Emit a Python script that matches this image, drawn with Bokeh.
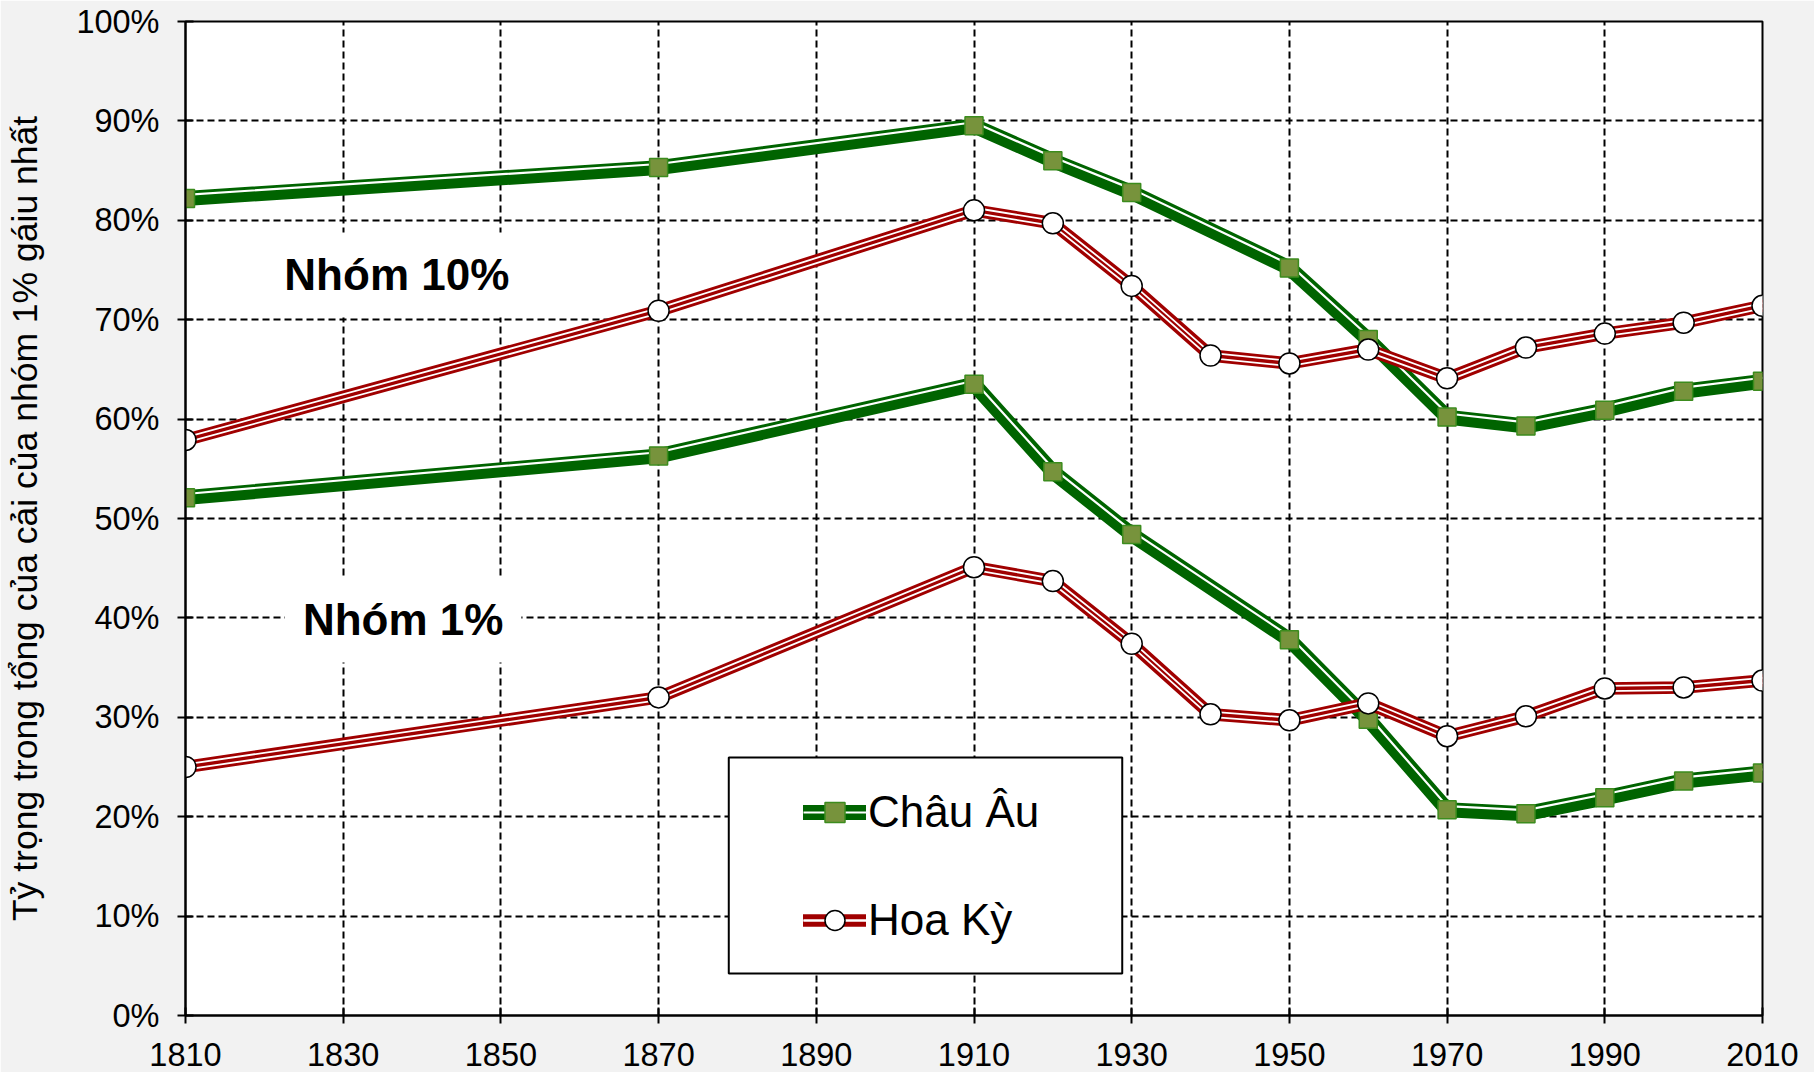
from bokeh.plotting import figure
from bokeh.models import (FixedTicker, NumeralTickFormatter, Legend, LegendItem,
                          BoxAnnotation, Range1d)
from bokeh.core.properties import value
from bokeh.embed import file_html
from bokeh.resources import INLINE

# ---------------- data ----------------
years_eu = [1810, 1870, 1910, 1920, 1930, 1950, 1960, 1970, 1980, 1990, 2000, 2010]
eu_top10 = [0.822, 0.853, 0.895, 0.860, 0.828, 0.752, 0.680, 0.602, 0.593, 0.609, 0.628, 0.638]
eu_top1 = [0.521, 0.563, 0.635, 0.547, 0.484, 0.378, 0.298, 0.207, 0.203, 0.219, 0.236, 0.244]

years_us = [1810, 1870, 1910, 1920, 1930, 1940, 1950, 1960, 1970, 1980, 1990, 2000, 2010]
us_top10 = [0.579, 0.709, 0.810, 0.797, 0.734, 0.664, 0.656, 0.670, 0.641, 0.672, 0.686, 0.697, 0.714]
us_top1 = [0.250, 0.320, 0.451, 0.437, 0.374, 0.303, 0.297, 0.314, 0.281, 0.301, 0.329, 0.330, 0.337]

x_ticks = [1810, 1830, 1850, 1870, 1890, 1910, 1930, 1950, 1970, 1990, 2010]
y_ticks = [0.0, 0.1, 0.2, 0.3, 0.4, 0.5, 0.6, 0.7, 0.8, 0.9, 1.0]

series_names = ["Châu Âu", "Hoa Kỳ"]
group_labels = ["Nhóm 10%", "Nhóm 1%"]
y_title = "Tỷ trọng trong tổng của cải của nhóm 1% gáiu nhất"

FONT = "Liberation Sans"
GREEN = "#006400"
GREEN_FILL = "#77933C"
RED = "#A00000"
PX = 1.0 / 994.0  # one screen pixel in data units (y)

p = figure(width=1814, height=1072, output_backend="svg", toolbar_location=None,
           x_range=Range1d(1810, 2010), y_range=Range1d(0, 1),
           min_border_left=185, min_border_right=52, min_border_top=21,
           min_border_bottom=57)
p.border_fill_color = "#f2f2f2"
p.background_fill_color = "white"
p.outline_line_color = "black"
p.outline_line_width = 2

# axes
for ax in (p.xaxis[0], p.yaxis[0]):
    ax.axis_line_color = "black"
    ax.axis_line_width = 2
    ax.major_tick_line_color = "black"
    ax.major_tick_line_width = 2
    ax.major_tick_in = 8
    ax.major_tick_out = 8
    ax.minor_tick_line_color = None
    ax.major_label_text_font = FONT
    ax.major_label_text_font_size = "32.5px"
    ax.major_label_text_color = "black"

p.xaxis.ticker = FixedTicker(ticks=x_ticks)
p.yaxis.ticker = FixedTicker(ticks=y_ticks)
p.yaxis.formatter = NumeralTickFormatter(format="0%")
p.xaxis.major_label_standoff = 19
p.yaxis.major_label_standoff = 18
p.yaxis.axis_label = y_title
p.yaxis.axis_label_text_font = FONT
p.yaxis.axis_label_text_font_size = "35.5px"
p.yaxis.axis_label_text_font_style = "normal"
p.yaxis.axis_label_text_color = "black"
p.yaxis.axis_label_standoff = 28

# grid
for g in (p.xgrid[0], p.ygrid[0]):
    g.grid_line_color = "black"
    g.grid_line_width = 2
    g.grid_line_dash = "7 4"

# ---------------- series ----------------
def eu_series(ys):
    thick = p.line(years_eu, ys, line_color=GREEN, line_width=15, line_join="round", line_cap="round")
    white = p.line(years_eu, [v + 3.6 * PX for v in ys], line_color="white", line_width=2.2)
    mk = p.scatter(years_eu, ys, marker="square", size=18, fill_color=GREEN_FILL,
                   line_color="#3C8C1E", line_width=1.5)
    return [thick, white, mk]

def us_series(ys):
    thick = p.line(years_us, ys, line_color=RED, line_width=12.5, line_join="round", line_cap="round")
    w1 = p.line(years_us, [v + 2.6 * PX for v in ys], line_color="white", line_width=1.8)
    w2 = p.line(years_us, [v - 2.6 * PX for v in ys], line_color="white", line_width=1.8)
    mk = p.scatter(years_us, ys, marker="circle", size=21, fill_color="white",
                   line_color="black", line_width=1.5)
    return [thick, w1, w2, mk]

eu10 = eu_series(eu_top10)
eu1 = eu_series(eu_top1)
us10 = us_series(us_top10)
us1 = us_series(us_top1)

# group labels
p.text(x=[1836.8], y=[0.745], text=[group_labels[0]], text_font=value(FONT),
       text_font_size="44px", text_font_style="bold", text_align="center",
       text_baseline="middle", text_color="black",
       background_fill_color="white", padding=18)
p.text(x=[1837.6], y=[0.398], text=[group_labels[1]], text_font=value(FONT),
       text_font_size="44px", text_font_style="bold", text_align="center",
       text_baseline="middle", text_color="black",
       background_fill_color="white", padding=18)

# legend frame
box = BoxAnnotation(left=1878.9, right=1928.8, bottom=0.0423, top=0.2596,
                    fill_color="white", fill_alpha=1.0, line_color="black",
                    line_width=2, line_alpha=1.0)
p.add_layout(box)

legend = Legend(items=[LegendItem(label=series_names[0], renderers=eu10),
                       LegendItem(label=series_names[1], renderers=us10)],
                location=(608, 60), orientation="vertical",
                padding=10, spacing=58, glyph_width=63, glyph_height=50,
                label_height=50, label_standoff=2,
                label_text_font=FONT, label_text_font_size="44px",
                label_text_color="black",
                border_line_alpha=0, background_fill_alpha=0)
p.add_layout(legend)

open("out.html", "w").write(file_html(p, INLINE))
